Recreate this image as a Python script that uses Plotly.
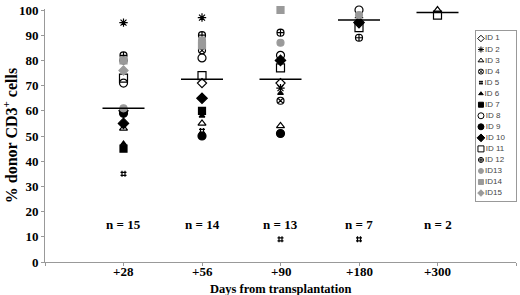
import plotly.graph_objects as go

categories = ["+28", "+56", "+90", "+180", "+300"]
counts = [15, 14, 13, 7, 2]
medians = [61, 72.5, 72.5, 96, 99]

id_names = ["ID 1", "ID 2", "ID 3", "ID 4", "ID 5", "ID 6", "ID 7", "ID 8",
            "ID 9", "ID 10", "ID 11", "ID 12", "ID13", "ID14", "ID15"]

id1 = [60, 71, 71, None, None]
id2 = [95, 97, 69, 97, None]
id3 = [53, 55, 54, None, 100]
id4 = [80, 84, 64, None, None]
id5 = [35, 52, 9, 9, None]
id6 = [47, 58, 67, None, None]
id7 = [45, 60, None, None, None]
id8 = [71, 81, 82, 100, None]
id9 = [59, 50, 51, None, None]
id10 = [55, 65, 80, 95, None]
id11 = [73, 74, 77, 93, 98]
id12 = [82, 90, 91, 89, None]
id13 = [61, 88, 87, 98, None]
id14 = [80, 86, 100, None, None]
id15 = [76, None, None, None, None]

series = [id1, id2, id3, id4, id5, id6, id7, id8, id9, id10, id11, id12, id13, id14, id15]

GRAY = "#9a9a9a"
styles = [
    ("diamond-open", "black", 7),
    ("asterisk-open", "black", 7),
    ("triangle-up-open", "black", 7),
    ("circle-x-open", "black", 7),
    ("hash-open", "black", 6),
    ("triangle-up", "black", 5),
    ("square", "black", 7),
    ("circle-open", "black", 8),
    ("circle", "black", 8),
    ("diamond", "black", 8),
    ("square-open", "black", 8),
    ("circle-cross-open", "black", 7),
    ("circle", GRAY, 7),
    ("square", GRAY, 7),
    ("diamond", GRAY, 7),
]

xpos = list(range(1, len(categories) + 1))

fig = go.Figure()
for name, vals, (sym, col, sz) in zip(id_names, series, styles):
    xs = [x for x, v in zip(xpos, vals) if v is not None]
    ys = [v for v in vals if v is not None]
    fig.add_trace(go.Scatter(
        x=xs, y=ys, mode="markers", name=name, showlegend=False, cliponaxis=False,
        marker=dict(symbol=sym, color=col, size=sz,
                    line=dict(color=col, width=1.2)),
    ))

# median bars
fig.add_trace(go.Scatter(
    x=xpos, y=medians, mode="markers", showlegend=False, cliponaxis=False,
    marker=dict(symbol="line-ew-open", size=30, color="black",
                line=dict(color="black", width=1.5)),
))

# custom compact legend on its own axes
for i, (name, (sym, col, sz)) in enumerate(zip(id_names, styles)):
    fig.add_trace(go.Scatter(
        x=[5], y=[i], mode="markers+text", text=[name], textposition="middle right",
        textfont=dict(family="Arial, Liberation Sans, sans-serif", size=8, color="#444"),
        xaxis="x2", yaxis="y2", showlegend=False, cliponaxis=False,
        marker=dict(symbol=sym, color=col, size=max(4, sz - 2),
                    line=dict(color=col, width=1)),
    ))

serif = "Times New Roman, Liberation Serif, serif"
for x, n in zip(xpos, counts):
    fig.add_annotation(x=x, y=15, text=f"<b>n = {n}</b>", showarrow=False,
                       font=dict(family=serif, size=13, color="black"))

# x tick labels placed close to the axis
for x, c in zip(xpos, categories):
    fig.add_annotation(x=x, xref="x", yref="paper", y=-0.039, yanchor="middle",
                       text=f"<b>{c}</b>", showarrow=False,
                       font=dict(family=serif, size=13, color="black"))

fig.add_annotation(xref="paper", yref="paper", x=0.5, y=-0.105, yanchor="middle",
                   text="<b>Days from transplantation</b>", showarrow=False,
                   font=dict(family=serif, size=12.5, color="black"))

fig.update_layout(
    width=520, height=295,
    margin=dict(l=45, r=3, t=6, b=33),
    plot_bgcolor="white", paper_bgcolor="white",
    showlegend=False,
    xaxis=dict(range=[0, 6], tickvals=[0] + xpos + [6], showticklabels=False,
               showline=True, linecolor="#999", linewidth=1, ticks="outside",
               ticklen=3, tickcolor="#999", showgrid=False, zeroline=False, domain=[0, 1]),
    yaxis=dict(range=[0, 100.4], tickvals=list(range(0, 101, 10)),
               ticktext=[f"<b>{v}</b>" for v in range(0, 101, 10)],
               ticklabeloverflow="allow",
               showline=True, linecolor="#999", linewidth=1,
               ticks="outside", ticklen=3, tickcolor="#999", showgrid=False, zeroline=False,
               tickfont=dict(family=serif, size=13, color="black"),
               title=dict(text="<b>% donor CD3<sup>+</sup> cells</b>", standoff=4,
                          font=dict(family=serif, size=16, color="black"))),
    xaxis2=dict(domain=[0.915, 1.0], range=[0, 40], anchor="y2", visible=True,
                showticklabels=False, ticks="", showgrid=False, zeroline=False,
                showline=True, mirror=True, linecolor="#999", linewidth=1, fixedrange=True),
    yaxis2=dict(domain=[0.242, 0.914], range=[14.7, -0.7], anchor="x2",
                showticklabels=False, ticks="", showgrid=False, zeroline=False,
                showline=True, mirror=True, linecolor="#999", linewidth=1, fixedrange=True),
)

fig.write_html("out.html", config={"displayModeBar": False},
               post_script="document.body.style.margin='0';document.body.style.overflow='hidden';")
